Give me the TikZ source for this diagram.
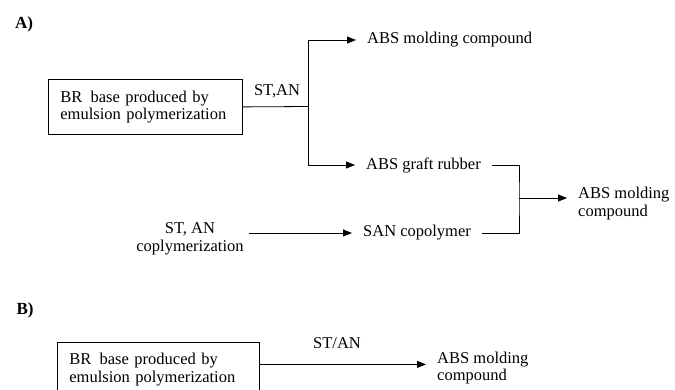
\documentclass[tikz,border=0pt]{standalone}
\usepackage{fontspec}
\setmainfont{Liberation Serif}
\usetikzlibrary{arrows.meta}
\begin{document}
\begin{tikzpicture}[x=1pt,y=-1pt,
  every node/.style={font=\fontsize{16.5}{17.5}\selectfont},
  ln/.style={line width=0.8pt,black},
  arr/.style={ln,-{Triangle[length=9pt,width=7pt]}},
  boxn/.style={draw,line width=0.8pt,anchor=north west,align=left,inner xsep=12pt,inner ysep=0pt},
  lbl/.style={anchor=west,inner xsep=11pt,inner ysep=1pt,align=left},
  part/.style={font=\fontsize{17}{20}\selectfont\bfseries,inner sep=0pt}]
\useasboundingbox (0,0) rectangle (675,389);
% Part A
\node[part] (labA) at (24,24) {A)};
\node[boxn,minimum width=194pt,minimum height=55pt,text width=170pt] (boxA) at (48,79) {BR\, base produced by\\emulsion polymerization};
\node[inner sep=1pt] (stan) at (277,91) {ST,AN};
\coordinate (jA) at (308,106.5);
\node[lbl] (absTop) at (356,40) {ABS molding compound};
\node[lbl] (graft) at (355,165) {ABS graft rubber};
\node[lbl] (san) at (352,233) {SAN copolymer};
\node[align=center,inner xsep=5pt,inner ysep=1pt] (stanCo) at (190,239) {ST, AN\\coplymerization};
\coordinate (jmid) at (519,198);
\node[lbl] (absA2) at (567,203.5) {ABS molding\\compound};
\draw[ln] (boxA.east) -- (jA);
\draw[arr] (jA) |- (absTop.west);
\draw[arr] (jA) |- (graft.west);
\draw[arr] (stanCo.east |- san.west) -- (san.west);
\draw[ln] (graft.east) -| (jmid) |- (san.east);
\draw[arr] (jmid) -- (jmid -| absA2.west);
% Part B
\node[part] (labB) at (25,310) {B)};
\node[boxn,minimum width=202pt,minimum height=54pt,text width=178pt] (boxB) at (57,342) {BR\, base produced by\\emulsion polymerization};
\node[inner sep=1pt] (stanB) at (337,343) {ST/AN};
\node[lbl] (absB) at (426,368) {ABS molding\\compound};
\draw[arr] ([yshift=5pt]boxB.east) -- ([yshift=5pt]boxB.east -| absB.west);
\end{tikzpicture}
\end{document}
